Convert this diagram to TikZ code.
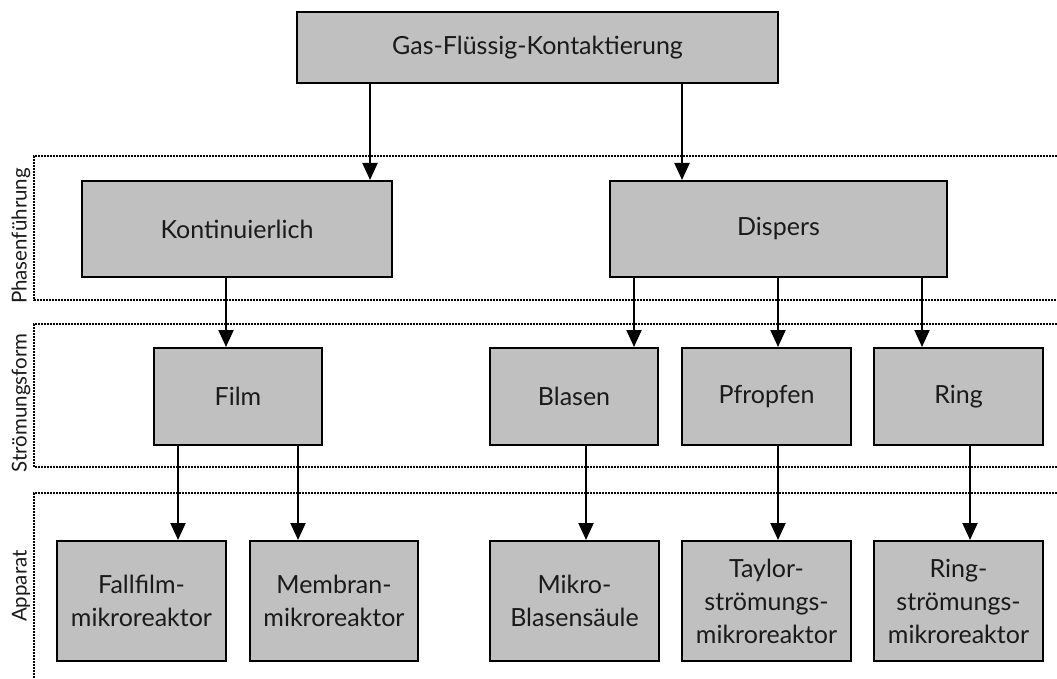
\documentclass[tikz,border=0pt]{standalone}
\usepackage{fontspec}
\setmainfont{Lato}
\usetikzlibrary{arrows.meta}
\definecolor{boxfill}{HTML}{C0C0C0}
\definecolor{txt}{HTML}{1A1A1A}
\tikzset{
  box/.style={draw=black, line width=2pt, fill=boxfill, inner sep=0pt, align=center,
    text=txt, font=\fontsize{25}{33}\selectfont},
  arr/.style={line width=2pt, -{Triangle[length=17pt,width=15pt]}},
  region/.style={line width=1.6pt, dash pattern=on 2pt off 1pt},
  lab/.style={rotate=90, text=txt, font=\fontsize{20.5}{22}\selectfont, inner sep=0pt}
}
\begin{document}
\begin{tikzpicture}[x=1pt,y=-1pt]
\useasboundingbox (0,0) rectangle (1057,679);
% regions
\draw[region] (1057,156) -- (34,156) -- (34,300) -- (1057,300);
\draw[region] (1057,324) -- (34,324) -- (34,467) -- (1057,467);
\draw[region] (1057,493) -- (34,493) -- (34,679);
\node[lab] (l1) at (21,236) {Phasenführung};
\node[lab] (l2) at (21,403) {Strömungsform};
\node[lab] (l3) at (21,586) {Apparat};
% boxes
\node[box, minimum width=481pt, minimum height=71pt] (top) at (537.5,47.5) {Gas-Flüssig-Kontaktierung};
\node[box, minimum width=310pt, minimum height=96pt] (kont) at (237,229) {Kontinuierlich};
\node[box, minimum width=337pt, minimum height=96pt] (disp) at (778.5,229) {Dispers};
\node[box, minimum width=168pt, minimum height=97pt] (film) at (238,396.5) {Film};
\node[box, minimum width=168pt, minimum height=97pt] (blasen) at (574,396.5) {Blasen};
\node[box, minimum width=169pt, minimum height=97pt] (pfropfen) at (766.5,396.5) {Pfropfen};
\node[box, minimum width=169pt, minimum height=97pt] (ring) at (958.5,396.5) {Ring};
\node[box, minimum width=169pt, minimum height=120pt] (fallfilm) at (141.5,601) {Fallfilm-\\mikroreaktor};
\node[box, minimum width=168pt, minimum height=120pt] (membran) at (334,601) {Membran-\\mikroreaktor};
\node[box, minimum width=169pt, minimum height=120pt] (mikro) at (574.5,601) {Mikro-\\Blasensäule};
\node[box, minimum width=169pt, minimum height=120pt] (taylor) at (766.5,601) {Taylor-\\strömungs-\\mikroreaktor};
\node[box, minimum width=169pt, minimum height=120pt] (ringr) at (958.5,601) {Ring-\\strömungs-\\mikroreaktor};
% arrow columns
\coordinate (a1) at (370,0);
\coordinate (a2) at (682,0);
\coordinate (a3) at (226,0);
\coordinate (a4) at (634,0);
\coordinate (a5) at (778,0);
\coordinate (a6) at (922,0);
\coordinate (a7) at (178,0);
\coordinate (a8) at (298,0);
\coordinate (a9) at (586,0);
\coordinate (a10) at (970,0);
\draw[arr] (top.south -| a1) -- (kont.north -| a1);
\draw[arr] (top.south -| a2) -- (disp.north -| a2);
\draw[arr] (kont.south -| a3) -- (film.north -| a3);
\draw[arr] (disp.south -| a4) -- (blasen.north -| a4);
\draw[arr] (disp.south -| a5) -- (pfropfen.north -| a5);
\draw[arr] (disp.south -| a6) -- (ring.north -| a6);
\draw[arr] (film.south -| a7) -- (fallfilm.north -| a7);
\draw[arr] (film.south -| a8) -- (membran.north -| a8);
\draw[arr] (blasen.south -| a9) -- (mikro.north -| a9);
\draw[arr] (pfropfen.south -| a5) -- (taylor.north -| a5);
\draw[arr] (ring.south -| a10) -- (ringr.north -| a10);
\end{tikzpicture}
\end{document}
